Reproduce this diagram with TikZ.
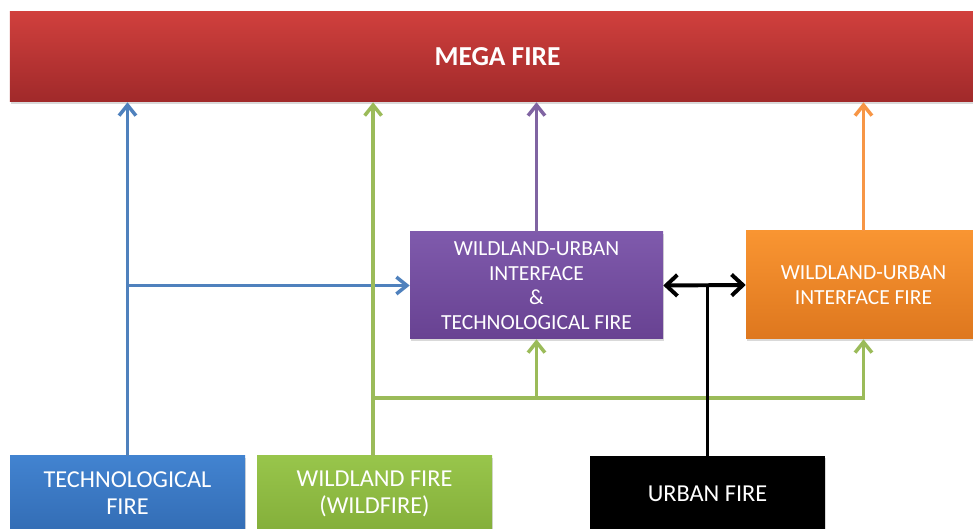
\documentclass[tikz,border=0pt]{standalone}
\usepackage{fontspec}
\setmainfont{Carlito}
\usetikzlibrary{arrows.meta,shadows}

\definecolor{megatop}{HTML}{D0403D}
\definecolor{megabot}{HTML}{A0292A}
\definecolor{wuitop}{HTML}{7F5AAC}
\definecolor{wuibot}{HTML}{684292}
\definecolor{wuiftop}{HTML}{F99532}
\definecolor{wuifbot}{HTML}{DE771E}
\definecolor{techtop}{HTML}{4283D0}
\definecolor{techbot}{HTML}{336DB5}
\definecolor{wildtop}{HTML}{98C54B}
\definecolor{wildbot}{HTML}{84AF3A}
\definecolor{bluelink}{HTML}{4F81BD}
\definecolor{greenlink}{HTML}{9BBB59}
\definecolor{purplelink}{HTML}{8064A2}
\definecolor{orangelink}{HTML}{F79646}

\begin{document}
\begin{tikzpicture}[
  box/.style={rectangle, text=white, align=center, inner sep=0pt,
    drop shadow={opacity=0.3, shadow xshift=0.5pt, shadow yshift=-1.5pt}},
  bigtext/.style={font=\fontsize{17.3}{19.2}\selectfont},
  smalltext/.style={font=\fontsize{15.3}{17.4}\selectfont},
  link/.style={line width=2.5pt, -{Straight Barb[length=7.5pt,width=12pt]}}
]
\useasboundingbox (0,0) rectangle (24.325,13.225);
\clip (0,0) rectangle (24.325,13.225);

\node[box, minimum width=24.375cm, minimum height=2.25cm,
  top color=megatop, bottom color=megabot,
  font=\fontsize{19.5}{22}\selectfont\bfseries] (mega) at (12.4375,11.8) {MEGA FIRE};

\node[box, smalltext, minimum width=6.325cm, minimum height=2.675cm,
  top color=wuitop, bottom color=wuibot] (wui) at (13.4125,6.0875)
  {WILDLAND-URBAN\\INTERFACE\\\&\\TECHNOLOGICAL FIRE};
\node[box, smalltext, minimum width=5.875cm, minimum height=2.7cm,
  top color=wuiftop, bottom color=wuifbot] (wuif) at (21.5875,6.1)
  {WILDLAND-URBAN\\INTERFACE FIRE};

\node[box, bigtext, minimum width=5.875cm, minimum height=1.875cm,
  top color=techtop, bottom color=techbot] (tech) at (3.1875,0.8875)
  {TECHNOLOGICAL\\FIRE};
\node[box, bigtext, minimum width=5.875cm, minimum height=1.875cm,
  top color=wildtop, bottom color=wildbot] (wild) at (9.3625,0.8875)
  {WILDLAND FIRE\\(WILDFIRE)};
\node[box, bigtext, minimum width=5.875cm, minimum height=1.875cm,
  fill=black] (urban) at (17.6875,0.8875) {URBAN FIRE};

\coordinate (gjoin) at ([xshift=-1pt]wild.north |- 0,3.275);

\draw[link, bluelink] (tech.north) -- (tech.north |- mega.south);
\draw[link, bluelink] (tech.north |- wui.west) -- (wui.west);
\draw[link, greenlink] ([xshift=-1pt]wild.north) -- ([xshift=-1pt]wild.north |- mega.south);
\draw[link, greenlink] (gjoin) -| (wui.south);
\draw[link, greenlink] (gjoin) -| (wuif.south);
\draw[link, purplelink] (wui.north) -- (wui.north |- mega.south);
\draw[link, orangelink] (wuif.north) -- (wuif.north |- mega.south);
\draw[line width=2.8pt, black] (urban.north) -- (urban.north |- wui.east);
\draw[line width=2.8pt, black, {Straight Barb[length=8pt,width=15pt]}-{Straight Barb[length=8pt,width=15pt]}]
  (wui.east) -- (wuif.west);
\end{tikzpicture}
\end{document}
